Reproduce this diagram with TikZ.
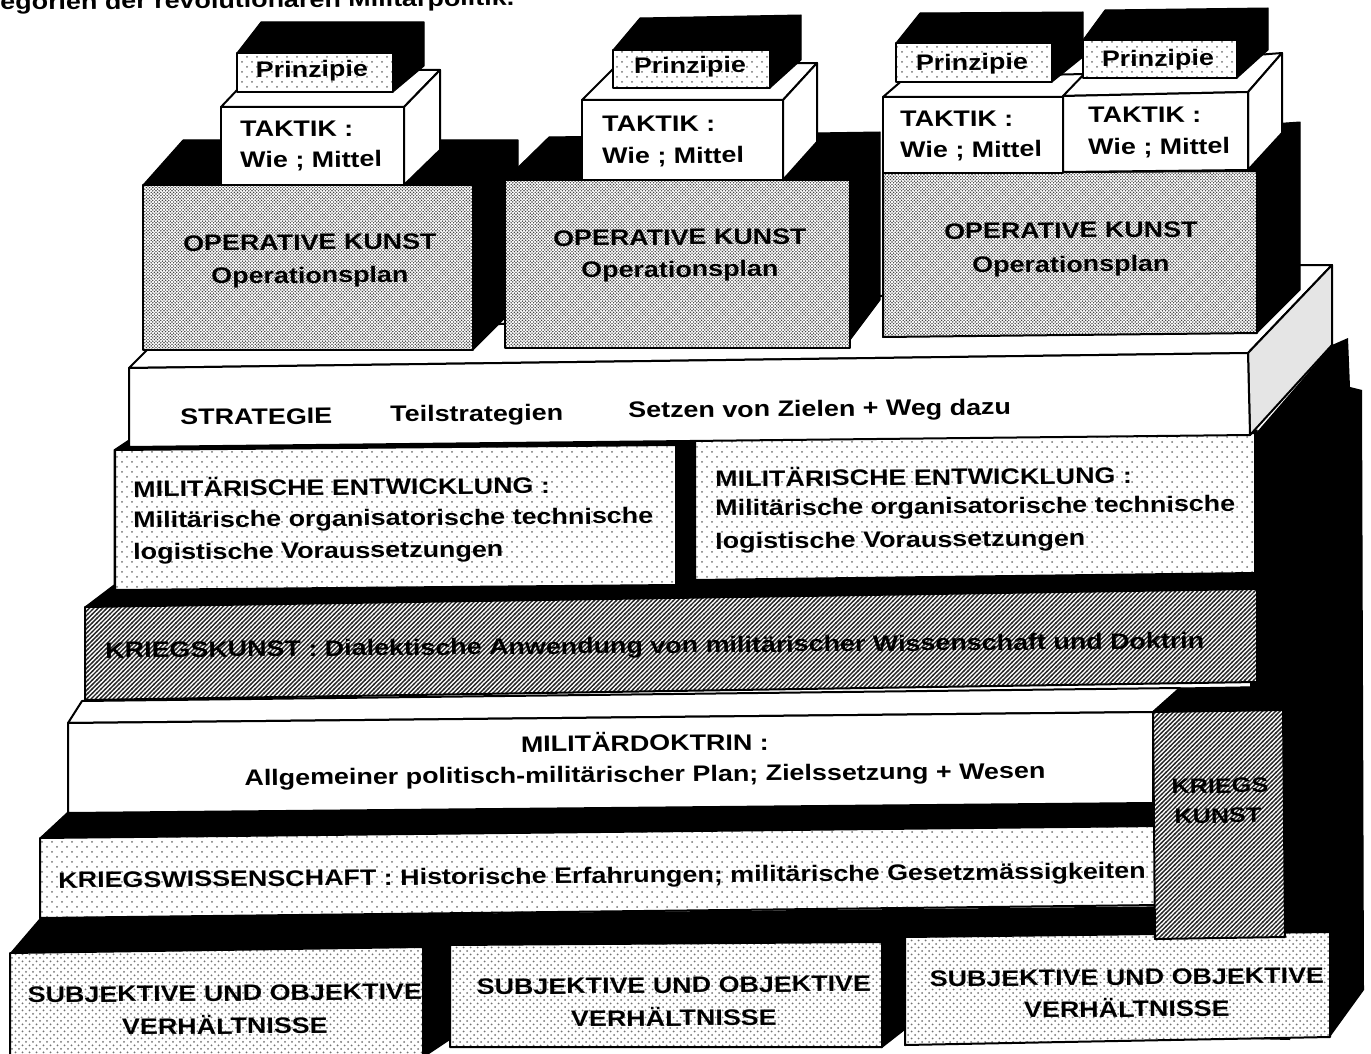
\documentclass[tikz,border=0pt]{standalone}
\usepackage{fontspec}
\setmainfont{Liberation Sans}
\usetikzlibrary{patterns}
\pgfdeclarepatternformonly{finechk}{\pgfpoint{-0.1pt}{-0.1pt}}{\pgfpoint{1.7pt}{1.7pt}}{\pgfpoint{1.6pt}{1.6pt}}{%
  \pgfpathcircle{\pgfpoint{0.4pt}{0.4pt}}{0.4pt}%
  \pgfpathcircle{\pgfpoint{1.2pt}{1.2pt}}{0.4pt}%
  \pgfusepath{fill}}
\pgfdeclarepatternformonly{sparsedots}{\pgfpoint{-1pt}{-1pt}}{\pgfpoint{6pt}{6pt}}{\pgfpoint{5pt}{5pt}}{%
  \pgfpathcircle{\pgfpoint{1pt}{1pt}}{0.5pt}%
  \pgfpathcircle{\pgfpoint{3.5pt}{3.5pt}}{0.5pt}%
  \pgfusepath{fill}}
\pgfdeclarepatternformonly{subjdots}{\pgfpoint{-1pt}{-1pt}}{\pgfpoint{4.5pt}{4.5pt}}{\pgfpoint{3.5pt}{3.5pt}}{%
  \pgfpathcircle{\pgfpoint{0.8pt}{0.8pt}}{0.5pt}%
  \pgfpathcircle{\pgfpoint{2.55pt}{2.55pt}}{0.5pt}%
  \pgfusepath{fill}}
\pgfdeclarepatternformonly{hatchne}{\pgfpoint{-0.5pt}{-0.5pt}}{\pgfpoint{2.7pt}{2.7pt}}{\pgfpoint{2.2pt}{2.2pt}}{%
  \pgfsetlinewidth{0.7pt}%
  \pgfpathmoveto{\pgfpoint{-0.2pt}{-0.2pt}}\pgfpathlineto{\pgfpoint{2.4pt}{2.4pt}}%
  \pgfusepath{stroke}}
\begin{document}
\begin{tikzpicture}[x=0.5pt,y=-0.5pt,
  blk/.style={fill=black, draw=black, line width=0.5pt, line join=round},
  wface/.style={fill=white, draw=black, line width=1pt, line join=round},
  okface/.style={preaction={fill=white}, pattern=finechk, pattern color=black!75, draw=black, line width=1pt, line join=round},
  dotface/.style={preaction={fill=white}, pattern=sparsedots, pattern color=black!55, draw=black, line width=1pt, line join=round},
  subjface/.style={preaction={fill=white}, pattern=subjdots, pattern color=black!55, draw=black, line width=1pt, line join=round},
  hatchface/.style={preaction={fill=white}, pattern=hatchne, pattern color=black!85, draw=black, line width=1pt, line join=round},
  lbl/.style={font=\fontsize{11.2}{13}\selectfont\bfseries, inner sep=0pt, xscale=1.2, rotate=0.6},
  lbls/.style={font=\fontsize{10.5}{12}\selectfont\bfseries, inner sep=0pt, xscale=1.2, rotate=0.6}]
\useasboundingbox (0,0) rectangle (1371,1054);
\clip (0,0) rectangle (1371,1054);
% big black right side
\fill[black] (1250,440) -- (1332,345) -- (1348,338) -- (1350,387) -- (1362,390) -- (1364,990) -- (1330,1037) -- (1250,1037) -- cycle;
% base layer: subjective and objective conditions
\fill[black] (10,953) -- (40,918) -- (1290,905) -- (1290,1040) -- (905,1030) -- (882,1048) -- (450,1040) -- (423,1058) -- (10,1058) -- cycle;
\path[subjface] (10,953) -- (423,947) -- (423,1060) -- (10,1060) -- cycle;
\path[subjface] (450,945) -- (882,942) -- (882,1047) -- (450,1047) -- cycle;
\path[subjface] (905,937) -- (1330,932) -- (1330,1037) -- (905,1045) -- cycle;
% Kriegswissenschaft
\path[blk] (40,838) -- (68,812) -- (1160,801) -- (1160,827) -- cycle;
\path[dotface] (40,838) -- (1160,826) -- (1160,905) -- (40,918) -- cycle;
% Militaerdoktrin
\path[wface] (68,723) -- (82,701) -- (1180,688) -- (1153,712) -- cycle;
\path[wface] (68,723) -- (1153,712) -- (1153,803) -- (68,813) -- cycle;
% Kriegskunst column
\path[blk] (1153,712) -- (1180,688) -- (1300,686) -- (1283,710) -- cycle;
\path[hatchface] (1153,712) -- (1283,710) -- (1285,937) -- (1155,939) -- cycle;
% Kriegskunst band
\path[blk] (85,607) -- (114,585) -- (114,450) -- (129,440) -- (1257,430) -- (1257,590) -- cycle;
\path[hatchface] (85,607) -- (1257,589) -- (1257,682) -- (85,700) -- cycle;
% Militaerische Entwicklung
\path[dotface] (115,450) -- (676,445) -- (676,585) -- (115,590) -- cycle;
\path[dotface] (695,438) -- (1255,433) -- (1255,573) -- (695,580) -- cycle;
% Strategie slab
\path[wface] (129,368) -- (147,350) -- (1302,265) -- (1332,265) -- (1248,353) -- cycle;
\path[wface, fill=black!10] (1248,353) -- (1332,265) -- (1332,345) -- (1250,435) -- cycle;
\path[wface] (129,368) -- (1248,353) -- (1250,435) -- (129,447) -- cycle;
% Operative Kunst blocks
\path[blk] (143,185) -- (183,140) -- (518,140) -- (518,305) -- (473,350) -- (473,185) -- cycle;
\path[blk] (505,180) -- (549,137) -- (880,132) -- (880,300) -- (850,340) -- (850,180) -- cycle;
\path[blk] (883,172) -- (905,150) -- (1300,122) -- (1300,290) -- (1257,333) -- (1257,172) -- cycle;
\path[okface] (143,185) -- (473,185) -- (473,350) -- (143,350) -- cycle;
\path[okface] (505,180) -- (850,180) -- (850,348) -- (505,348) -- cycle;
\path[okface] (883,173) -- (1257,171) -- (1257,333) -- (883,337) -- cycle;
% Taktik blocks
\path[wface] (221,107) -- (256,70) -- (440,70) -- (404,107) -- cycle;
\path[wface] (404,107) -- (440,70) -- (440,150) -- (404,185) -- cycle;
\path[wface] (221,107) -- (404,107) -- (404,185) -- (221,185) -- cycle;
\path[wface] (582,100) -- (618,64) -- (817,63) -- (783,100) -- cycle;
\path[wface] (783,100) -- (817,63) -- (817,142) -- (783,180) -- cycle;
\path[wface] (582,100) -- (783,100) -- (783,180) -- (582,180) -- cycle;
\path[wface] (883,97) -- (905,78) -- (1085,74) -- (1063,97) -- cycle;
\path[wface] (883,97) -- (1063,97) -- (1063,173) -- (883,173) -- cycle;
\path[wface] (1063,96) -- (1090,68) -- (1282,53) -- (1248,92) -- cycle;
\path[wface] (1248,92) -- (1282,53) -- (1282,133) -- (1248,170) -- cycle;
\path[wface] (1063,96) -- (1248,92) -- (1248,170) -- (1063,172) -- cycle;
% Prinzipie blocks
\path[blk] (237,53) -- (261,22) -- (424,22) -- (424,66) -- (393,92) -- (393,53) -- cycle;
\path[dotface] (237,53) -- (393,53) -- (393,92) -- (237,92) -- cycle;
\path[blk] (613,50) -- (640,18) -- (801,15) -- (801,60) -- (770,88) -- (770,50) -- cycle;
\path[dotface] (613,50) -- (770,50) -- (770,88) -- (613,88) -- cycle;
\path[blk] (896,43) -- (920,13) -- (1083,12) -- (1083,57) -- (1052,82) -- (1052,43) -- cycle;
\path[dotface] (896,43) -- (1052,43) -- (1052,82) -- (896,82) -- cycle;
\path[blk] (1083,40) -- (1105,10) -- (1268,8) -- (1268,50) -- (1237,78) -- (1237,40) -- cycle;
\path[dotface] (1083,40) -- (1237,40) -- (1237,78) -- (1083,78) -- cycle;
% texts
\node[lbl, anchor=base west] (title) at (0,10) {egorien der revolutionären Militärpolitik.};
\node[lbl, anchor=base] (pr1) at (312,77) {Prinzipie};
\node[lbl, anchor=base] (pr2) at (690,73) {Prinzipie};
\node[lbl, anchor=base] (pr3) at (972,70) {Prinzipie};
\node[lbl, anchor=base] (pr4) at (1158,66) {Prinzipie};
\node[lbl, anchor=base west] (ta1) at (240,137) {TAKTIK :};
\node[lbl, anchor=base west] (tb1) at (240,168) {Wie ; Mittel};
\node[lbl, anchor=base west] (ta2) at (602,132) {TAKTIK :};
\node[lbl, anchor=base west] (tb2) at (602,164) {Wie ; Mittel};
\node[lbl, anchor=base west] (ta3) at (900,127) {TAKTIK :};
\node[lbl, anchor=base west] (tb3) at (900,158) {Wie ; Mittel};
\node[lbl, anchor=base west] (ta4) at (1088,123) {TAKTIK :};
\node[lbl, anchor=base west] (tb4) at (1088,155) {Wie ; Mittel};
\node[lbl, anchor=base] (oa1) at (310,250) {OPERATIVE KUNST};
\node[lbl, anchor=base] (ob1) at (310,283) {Operationsplan};
\node[lbl, anchor=base] (oa2) at (680,245) {OPERATIVE KUNST};
\node[lbl, anchor=base] (ob2) at (680,277) {Operationsplan};
\node[lbl, anchor=base] (oa3) at (1071,238) {OPERATIVE KUNST};
\node[lbl, anchor=base] (ob3) at (1071,272) {Operationsplan};
\node[lbl, anchor=base west] (st1) at (180,425) {STRATEGIE};
\node[lbl, anchor=base west] (st2) at (390,422) {Teilstrategien};
\node[lbl, anchor=base west] (st3) at (628,418) {Setzen von Zielen + Weg dazu};
\node[lbl, anchor=base west] (ma1) at (133,497) {MILITÄRISCHE ENTWICKLUNG :};
\node[lbl, anchor=base west] (mb1) at (133,528) {Militärische organisatorische technische};
\node[lbl, anchor=base west] (mc1) at (133,560) {logistische Voraussetzungen};
\node[lbl, anchor=base west] (ma2) at (715,487) {MILITÄRISCHE ENTWICKLUNG :};
\node[lbl, anchor=base west] (mb2) at (715,516) {Militärische organisatorische technische};
\node[lbl, anchor=base west] (mc2) at (715,549) {logistische Voraussetzungen};
\node[lbl, anchor=base west] (kk) at (105,658) {KRIEGSKUNST : Dialektische Anwendung von militärischer Wissenschaft und Doktrin};
\node[lbl, anchor=base] (md1) at (645,751) {MILITÄRDOKTRIN :};
\node[lbl, anchor=base] (md2) at (645,782) {Allgemeiner politisch-militärischer Plan; Zielssetzung + Wesen};
\node[lbls, anchor=base] (kka) at (1220,793) {KRIEGS};
\node[lbls, anchor=base] (kkb) at (1218,823) {KUNST};
\node[lbl, anchor=base west] (kw) at (58,888) {KRIEGSWISSENSCHAFT : Historische Erfahrungen; militärische Gesetzmässigkeiten};
\node[lbl, anchor=base] (sa1) at (225,1001) {SUBJEKTIVE UND OBJEKTIVE};
\node[lbl, anchor=base] (sb1) at (225,1034) {VERHÄLTNISSE};
\node[lbl, anchor=base] (sa2) at (674,993) {SUBJEKTIVE UND OBJEKTIVE};
\node[lbl, anchor=base] (sb2) at (674,1026) {VERHÄLTNISSE};
\node[lbl, anchor=base] (sa3) at (1127,985) {SUBJEKTIVE UND OBJEKTIVE};
\node[lbl, anchor=base] (sb3) at (1127,1017) {VERHÄLTNISSE};
\end{tikzpicture}
\end{document}
